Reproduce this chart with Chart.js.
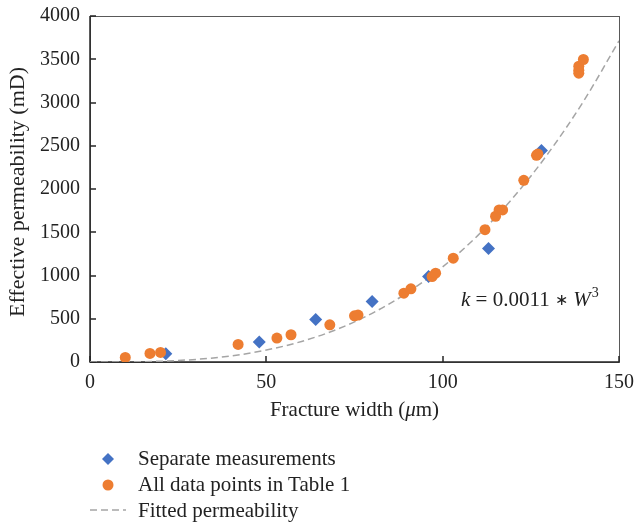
<!DOCTYPE html>
<html>
<head>
<meta charset="utf-8">
<script src="https://cdn.jsdelivr.net/npm/chart.js@4/dist/chart.umd.min.js"></script>
<style>
  body { margin: 0; background: #fff; }
  #wrap { position: relative; width: 635px; height: 524px; }
  #legend { position: absolute; left: 88px; top: 446px; font-family: "Liberation Serif", serif; font-size: 21px; color: #222; }
  .item { height: 25.8px; display: flex; align-items: center; }
  .item svg { width: 40px; height: 20px; margin-right: 10px; }
</style>
</head>
<body>
<div id="wrap">
  <canvas id="chart" width="635" height="524"></canvas>
  <div id="legend">
    <div class="item"><svg viewBox="0 0 40 20"><polygon points="20,4 26,10 20,16 14,10" fill="#4472C4"/></svg>Separate measurements</div>
    <div class="item"><svg viewBox="0 0 40 20"><circle cx="20" cy="10" r="5.5" fill="#ED7D31"/></svg>All data points in Table 1</div>
    <div class="item"><svg viewBox="0 0 40 20"><line x1="2" y1="10" x2="38" y2="10" stroke="#A5A5A5" stroke-width="1.5" stroke-dasharray="7,4"/></svg>Fitted permeability</div>
  </div>
</div>
<script>
// Mediciones separadas
const sepWidth = [21.5, 48, 64, 80, 96, 113, 128];
const sepPerm = [96, 231, 492, 700, 988, 1311, 2446];

// Todos los puntos de la tabla 1
const allWidth = [10, 17, 20, 42, 53, 57, 68, 75, 76, 89, 91, 97, 98, 103, 112, 115, 116, 117, 123, 126.6, 127, 138.6, 138.6, 138.6, 139.9];
const allPerm = [53, 99, 111, 203, 277, 315, 430, 534, 542, 796, 846, 988, 1027, 1200, 1530, 1685, 1758, 1758, 2100, 2389, 2404, 3339, 3373, 3420, 3497];

// Curva ajustada
const fitWidth = [0, 10, 20, 30, 40, 50, 60, 70, 80, 90, 100, 110, 120, 130, 140, 150];
const fitPerm = [0, 1, 9, 30, 70, 138, 238, 377, 563, 802, 1100, 1464, 1901, 2417, 3018, 3713];

const xTicks = [0, 50, 100, 150];
const yTicks = [0, 500, 1000, 1500, 2000, 2500, 3000, 3500, 4000];

const toPoints = (xs, ys) => xs.map((x, i) => ({ x: x, y: ys[i] }));
const serif = '"Liberation Serif", serif';
const textColor = '#222';

// Marco, marcas hacia dentro y textos
const framePlugin = {
  id: 'frame',
  beforeDatasetsDraw(chart) {
    const { ctx, chartArea: a, scales: { x, y } } = chart;
    ctx.save();
    ctx.strokeStyle = '#595959';
    ctx.lineWidth = 1;
    ctx.strokeRect(a.left + 0.5, a.top + 0.5, a.right - a.left, a.bottom - a.top);
    ctx.strokeStyle = '#262626';
    ctx.lineWidth = 1.5;
    ctx.beginPath();
    ctx.moveTo(a.left, a.top);
    ctx.lineTo(a.left, a.bottom);
    ctx.lineTo(a.right, a.bottom);
    ctx.stroke();
    ctx.lineWidth = 1.5;
    ctx.beginPath();
    xTicks.forEach(v => {
      const px = Math.round(x.getPixelForValue(v));
      ctx.moveTo(px, a.bottom);
      ctx.lineTo(px, a.bottom - 6);
    });
    yTicks.forEach(v => {
      const py = Math.round(y.getPixelForValue(v));
      ctx.moveTo(a.left, py);
      ctx.lineTo(a.left + 6, py);
    });
    ctx.stroke();
    ctx.restore();
  },
  afterDraw(chart) {
    const { ctx, chartArea: a } = chart;
    ctx.save();
    ctx.fillStyle = textColor;
    ctx.textBaseline = 'middle';

    // titulo eje x con mu en cursiva
    const parts = [['Fracture width (', ''], ['\u03bc', 'italic '], ['m)', '']];
    let total = 0;
    parts.forEach(p => { ctx.font = p[1] + '21px ' + serif; total += ctx.measureText(p[0]).width; });
    let cx = (a.left + a.right) / 2 - total / 2;
    ctx.textAlign = 'left';
    parts.forEach(p => {
      ctx.font = p[1] + '21px ' + serif;
      ctx.fillText(p[0], cx, 410);
      cx += ctx.measureText(p[0]).width;
    });

    // titulo eje y
    ctx.save();
    ctx.translate(18, 192);
    ctx.rotate(-Math.PI / 2);
    ctx.textAlign = 'center';
    ctx.font = '22px ' + serif;
    ctx.fillText('Effective permeability (mD)', 0, 0);
    ctx.restore();

    // ecuacion
    ctx.textBaseline = 'alphabetic';
    ctx.textAlign = 'left';
    let ex = 461;
    const ey = 306;
    const eq = [['k', 'italic ', 0, 21], [' = 0.0011 ', '', 0, 21], ['\u2217', '', -1, 16], [' ', '', 0, 21], ['W', 'italic ', 0, 21], ['3', '', -9, 14]];
    eq.forEach(p => {
      ctx.font = p[1] + p[3] + 'px ' + serif;
      ctx.fillText(p[0], ex, ey + p[2]);
      ex += ctx.measureText(p[0]).width + (p[0] === 'W' ? 1 : 0);
    });
    ctx.restore();
  }
};

new Chart(document.getElementById('chart'), {
  type: 'scatter',
  data: {
    datasets: [
      {
        label: 'All data points in Table 1',
        data: toPoints(allWidth, allPerm),
        backgroundColor: '#ED7D31',
        borderColor: '#ED7D31',
        borderWidth: 0,
        pointStyle: 'circle',
        pointRadius: 5.5,
        order: 0
      },
      {
        label: 'Separate measurements',
        data: toPoints(sepWidth, sepPerm),
        backgroundColor: '#4472C4',
        borderColor: '#4472C4',
        borderWidth: 0,
        pointStyle: 'rectRot',
        pointRadius: 6.5,
        order: 1
      },
      {
        label: 'Fitted permeability',
        data: toPoints(fitWidth, fitPerm),
        showLine: true,
        borderColor: '#A5A5A5',
        borderWidth: 1.5,
        borderDash: [7, 4],
        pointRadius: 0,
        cubicInterpolationMode: 'monotone',
        order: 2
      }
    ]
  },
  options: {
    responsive: false,
    animation: false,
    layout: { padding: { left: 0, right: 16, top: 16, bottom: 100 } },
    plugins: {
      legend: { display: false },
      tooltip: { enabled: false }
    },
    scales: {
      x: {
        type: 'linear',
        min: 0,
        max: 150,
        afterFit: s => { s.height = 62; s.paddingLeft = 0; s.paddingRight = 0; },
        afterBuildTicks: s => { s.ticks = xTicks.map(v => ({ value: v })); },
        grid: { display: false, drawTicks: false },
        border: { display: false },
        ticks: { padding: 9, color: textColor, font: { family: serif, size: 20 }, callback: v => String(v) }
      },
      y: {
        min: 0,
        max: 4000,
        afterFit: s => { s.width = 90; s.paddingTop = 0; s.paddingBottom = 0; },
        afterBuildTicks: s => { s.ticks = yTicks.map(v => ({ value: v })); },
        grid: { display: false, drawTicks: false },
        border: { display: false },
        ticks: { padding: 10, color: textColor, font: { family: serif, size: 20 }, callback: v => String(v) }
      }
    }
  },
  plugins: [framePlugin]
});
</script>
</body>
</html>
